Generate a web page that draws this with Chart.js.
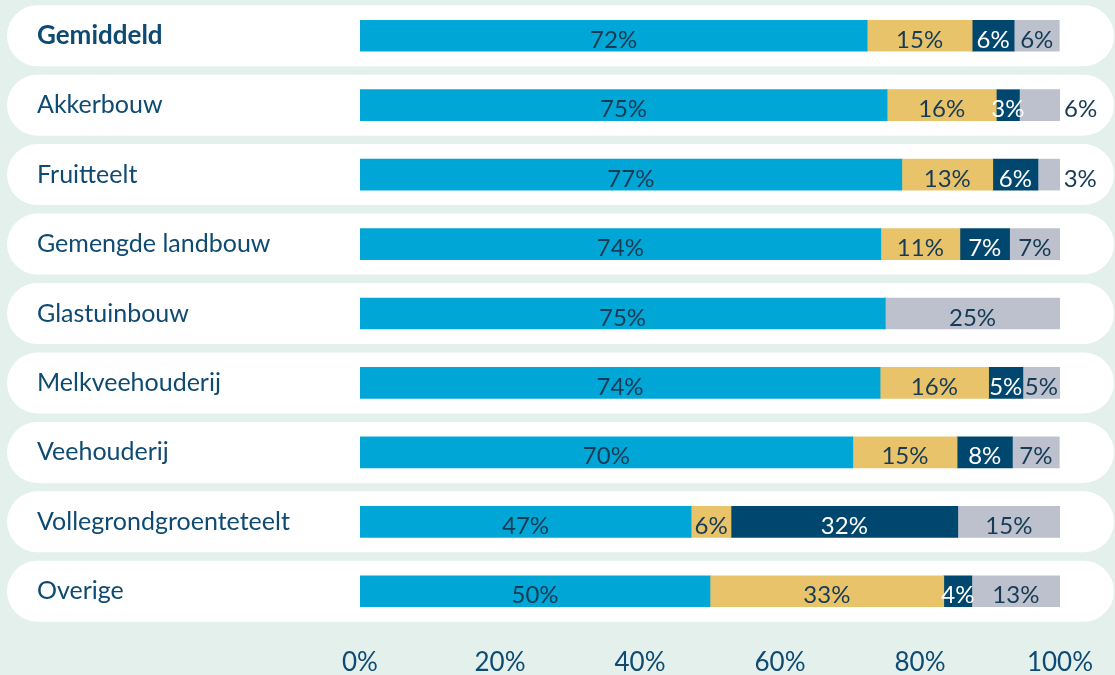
<!DOCTYPE html>
<html lang="nl">
<head>
<meta charset="utf-8">
<title>Verdeling per sector</title>
<script src="https://cdn.jsdelivr.net/npm/chart.js@4/dist/chart.umd.min.js"></script>
<style>
  html, body { margin: 0; padding: 0; background: #e4f0ec; }
  #wrap { width: 1115px; height: 675px; position: relative; }
</style>
</head>
<body>
<div id="wrap"><canvas id="sectorChart"></canvas></div>
<script>
const categories = ['Gemiddeld', 'Akkerbouw', 'Fruitteelt', 'Gemengde landbouw', 'Glastuinbouw',
    'Melkveehouderij', 'Veehouderij', 'Vollegrondgroenteteelt', 'Overige'];

// shares per sector, in percent
const deel1 = [72.45, 75.3, 77.4, 74.4, 75.0, 74.3, 70.4, 47.3, 50.0];
const deel2 = [15.0, 15.6, 13.0, 11.3, 0, 15.5, 14.9, 5.7, 33.4];
const deel3 = [6.0, 3.3, 6.45, 7.1, 0, 4.9, 7.9, 32.4, 4.0];
const deel4 = [6.45, 5.8, 3.1, 7.2, 25.0, 5.3, 6.7, 14.6, 12.6];

const xTicks = [0, 20, 40, 60, 80, 100];

const FONT = 'Lato, "Source Sans Pro", "Noto Sans", sans-serif';
const NAVY = '#0e4a72';
const DARK_TEXT = '#163b55';

const series = [
    { data: deel1, color: '#00a7d6', text: DARK_TEXT },
    { data: deel2, color: '#e9c36a', text: DARK_TEXT },
    { data: deel3, color: '#00476f', text: '#ffffff' },
    { data: deel4, color: '#bcc1cd', text: DARK_TEXT }
];

// background + white rounded row behind each sector
const rowsPlugin = {
    id: 'rows',
    beforeDraw(chart) {
        const ctx = chart.ctx;
        const y = chart.scales.y;
        ctx.save();
        ctx.fillStyle = '#e4f0ec';
        ctx.fillRect(0, 0, chart.width, chart.height);
        ctx.fillStyle = '#ffffff';
        categories.forEach((c, i) => {
            const cy = y.getPixelForValue(i);
            ctx.beginPath();
            ctx.roundRect(7, cy - 30.5, 1107, 61, 30.5);
            ctx.fill();
        });
        ctx.restore();
    }
};

// percentage labels inside the segments; the last one moves outside when it doesn't fit
const labelsPlugin = {
    id: 'segLabels',
    afterDatasetsDraw(chart) {
        const ctx = chart.ctx;
        ctx.save();
        ctx.font = '24px ' + FONT;
        ctx.textBaseline = 'alphabetic';
        categories.forEach((c, i) => {
            let prevRight = -Infinity;
            let last = -1;
            series.forEach((s, d) => { if (s.data[i] > 0) last = d; });
            series.forEach((s, d) => {
                const v = s.data[i];
                if (!(v > 0)) return;
                const bar = chart.getDatasetMeta(d).data[i];
                const left = Math.min(bar.base, bar.x);
                const right = Math.max(bar.base, bar.x);
                const txt = Math.round(v) + '%';
                const w = ctx.measureText(txt).width;
                let cx = (left + right) / 2;
                let align = 'center';
                let color = s.text;
                const crowded = prevRight > left && cx - w / 2 < prevRight + 3;
                if (d === last && (w > right - left || crowded)) {
                    cx = right + 4;
                    align = 'left';
                    color = DARK_TEXT;
                }
                ctx.textAlign = align;
                ctx.fillStyle = color;
                ctx.fillText(txt, cx, bar.y + 12);
                prevRight = align === 'center' ? cx + w / 2 : cx + w;
            });
        });
        ctx.restore();
    }
};

new Chart(document.getElementById('sectorChart'), {
    type: 'bar',
    data: {
        labels: categories,
        datasets: series.map(s => ({
            data: s.data,
            backgroundColor: s.color,
            borderWidth: 0,
            barThickness: 31
        }))
    },
    options: {
        indexAxis: 'y',
        responsive: true,
        maintainAspectRatio: false,
        animation: false,
        layout: { padding: { left: 37, right: 55, top: 1, bottom: 0 } },
        plugins: {
            legend: { display: false },
            tooltip: { enabled: false }
        },
        scales: {
            x: {
                stacked: true,
                min: 0,
                max: 100,
                afterFit(scale) { scale.height = 49; },
                afterBuildTicks(scale) { scale.ticks = xTicks.map(v => ({ value: v })); },
                grid: { display: false, drawTicks: false },
                border: { display: false },
                ticks: {
                    padding: 21,
                    color: NAVY,
                    font: { family: FONT, size: 26 },
                    callback: v => v + '%'
                }
            },
            y: {
                stacked: true,
                afterFit(scale) {
                    scale.width = 323;
                    scale.paddingTop = 0;
                    scale.paddingBottom = 0;
                },
                grid: { display: false, drawTicks: false },
                border: { display: false },
                ticks: {
                    crossAlign: 'far',
                    color: NAVY,
                    font: ctx => ({ family: FONT, size: ctx.index === 0 ? 26 : 25, weight: ctx.index === 0 ? 'bold' : 'normal' })
                }
            }
        }
    },
    plugins: [rowsPlugin, labelsPlugin]
});
</script>
</body>
</html>
